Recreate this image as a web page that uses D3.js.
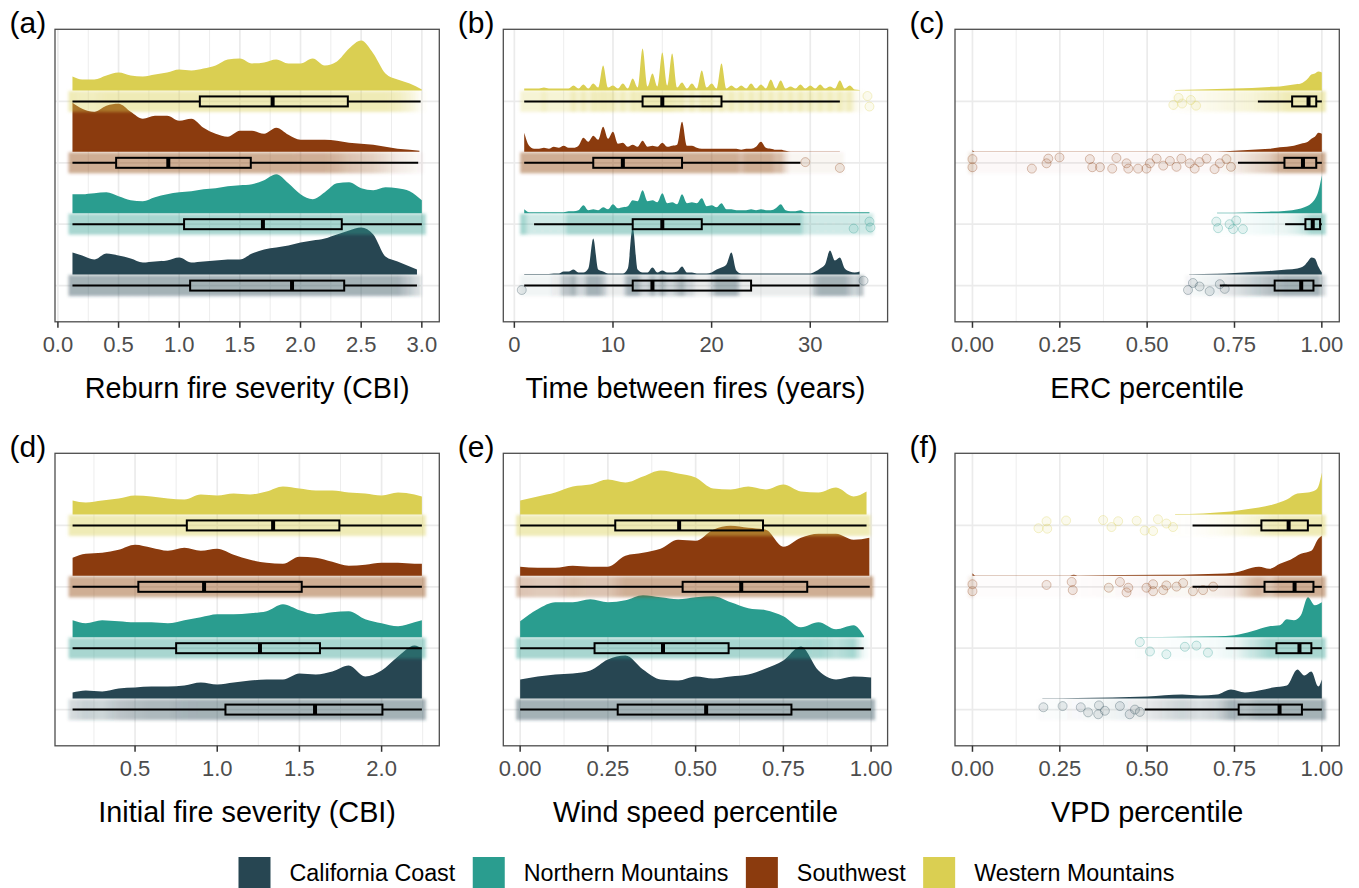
<!DOCTYPE html>
<html>
<head>
<meta charset="utf-8">
<title>reburn rainclouds</title>
<script src="https://cdn.jsdelivr.net/npm/d3@7/dist/d3.min.js"></script>
<style>
  body { margin: 0; background: #fff; }
  text { font-family: "Liberation Sans", Arial, Helvetica, sans-serif; }
</style>
</head>
<body>
<svg id="chart" width="1359" height="888"></svg>
<script>

// regions, bottom to top
var regions = ["California Coast", "Northern Mountains", "Southwest", "Western Mountains"];
var regionColors = ["#274652", "#2a9d8f", "#8b3b0e", "#dacf52"];

// (a) reburn severity: [CBI, density]
var reburnCC = [[0.12,22],[0.2,19],[0.3,15],[0.4,21],[0.5,19],[0.6,16],[0.7,12],[0.8,13],[0.9,14],[1.0,17],[1.1,12],[1.2,13],[1.3,14],[1.4,15],[1.5,15],[1.6,21],[1.7,25],[1.8,27],[1.9,29],[2.0,32],[2.1,34],[2.2,36],[2.3,40],[2.4,44],[2.5,47],[2.6,40],[2.7,18],[2.8,13],[2.9,8],[2.96,5]];
var reburnNM = [[0.12,19],[0.2,19],[0.3,20],[0.4,21],[0.5,17],[0.6,13],[0.7,12],[0.8,16],[0.9,19],[1.0,21],[1.1,22],[1.2,24],[1.3,25],[1.4,27],[1.5,28],[1.6,29],[1.7,33],[1.8,39],[1.9,30],[2.0,19],[2.1,14],[2.2,21],[2.3,30],[2.4,31],[2.5,25],[2.6,23],[2.7,26],[2.8,25],[2.9,22],[3.0,13]];
var reburnSW = [[0.12,49],[0.2,43],[0.3,40],[0.4,46],[0.5,48],[0.6,40],[0.7,33],[0.8,36],[0.9,36],[1.0,31],[1.1,33],[1.2,24],[1.3,18],[1.4,15],[1.5,21],[1.6,21],[1.7,18],[1.8,24],[1.9,17],[2.0,12],[2.1,12],[2.2,12],[2.3,11],[2.4,9],[2.5,8],[2.6,7],[2.7,5],[2.8,3],[2.9,2],[2.98,1]];
var reburnWM = [[0.12,14],[0.2,11],[0.3,11],[0.4,15],[0.5,18],[0.6,15],[0.7,14],[0.8,16],[0.9,18],[1.0,21],[1.1,20],[1.2,22],[1.3,25],[1.4,31],[1.5,32],[1.6,27],[1.7,28],[1.8,31],[1.9,27],[2.0,27],[2.1,32],[2.2,25],[2.3,29],[2.4,42],[2.5,50],[2.6,37],[2.7,17],[2.8,11],[2.9,7],[3.0,1]];
// [min, q1, median, q3, max]
var reburnBox = [[0.12,1.09,1.93,2.36,2.96],[0.12,1.04,1.69,2.34,3.0],[0.12,0.48,0.91,1.59,2.97],[0.12,1.17,1.77,2.39,2.99]];
var reburnTicks = [0, 0.5, 1, 1.5, 2, 2.5, 3];

// (b) years between fires, density every half year from 1
var timeStart = 1, timeStep = 0.5;
var timeCC = [0.5,0.5,0.5,0.5,0.5,0.5,1,1,3,3, 5,2,2,6,36,5,3,1,1,1, 1,6,47,5,2,2,7,2,4,2, 2,3,8,2,2,1,1,1,2,5, 7,10,22,4,1,1,1,1,1,1, 1,1,1,1,1,1,1,1,1,3, 6,10,24,14,17,6,3,2,3];
var timeNM = [4,1,1,1,1,1,1,1,1,2, 2,3,8,3,4,3,6,4,9,5, 6,7,13,12,23,12,13,11,20,10, 11,9,19,10,11,10,15,7,8,6, 10,4,4,3,3,3,4,3,4,3, 3,5,9,3,2,2,3,1,1,1, 1,1,1,1,1,1,1,1,1,1, 1];
var timeSW = [19,6,3,3,4,3,5,4,6,4, 4,6,14,10,16,12,25,13,20,8, 9,5,7,5,11,5,6,5,9,5, 6,7,30,6,6,4,3,3,3,3, 3,3,3,3,2,3,3,5,10,4, 3,2,2,1,0.3,0.3,0.3,0.3,0.3,0.3, 0.3,0.3,0.3,0.3,0.3];
var timeWM = [2,2,2,2,3,2,2,2,2,2, 5,2,6,2,7,3,25,3,5,2, 7,2,12,3,42,4,17,4,38,5, 37,3,8,2,7,2,20,3,7,2, 27,2,5,2,5,2,7,2,6,2, 11,2,10,2,4,2,6,2,5,2, 6,2,4,2,10,2,5,1,0.5];
var timeBox = [[1,12,14,24,35],[2,12,15,19,29],[1,8,11,17,29],[1,13,15,21,33]];
var timeTicks = [0, 10, 20, 30];
// scattered points: [region index, value, jitter -1..1]
var timeSparse = [[3,36,0.73],[3,35.8,-0.77],[2,33,0.73],[2,29.5,-0.1],[1,36,-0.37],[1,36.1,0.47],[1,34.4,0.63],[0,0.75,0.63],[0,35.4,-0.7]];

// (c) ERC percentile
var ercCC = [[0.62,0.3],[0.70,0.8],[0.75,1.5],[0.80,2.5],[0.85,3.5],[0.90,5],[0.93,6],[0.95,9],[0.96,13],[0.97,17],[0.98,16],[0.99,8],[1.0,2]];
var ercNM = [[0.70,0.3],[0.75,0.5],[0.80,1],[0.85,1.5],[0.90,2.5],[0.93,4],[0.95,6],[0.97,10],[0.98,14],[0.99,22],[1.0,38]];
var ercSW = [[0.0,1.5],[0.005,0.3],[0.7,0.3],[0.75,1],[0.80,2],[0.85,3],[0.88,4.5],[0.90,5],[0.92,6],[0.94,8],[0.96,10],[0.97,13],[0.98,15],[0.99,19],[1.0,18]];
var ercWM = [[0.58,0.3],[0.65,1],[0.70,1.5],[0.75,2],[0.80,2.5],[0.85,3.5],[0.88,4],[0.90,5],[0.92,6],[0.94,7],[0.95,9],[0.96,12],[0.97,16],[0.98,17],[0.99,19],[1.0,18]];
var ercBox = [[0.708,0.865,0.941,0.976,1.0],[0.895,0.953,0.974,0.995,1.0],[0.76,0.893,0.946,0.984,1.0],[0.817,0.915,0.962,0.984,1.0]];
var pctTicks = [0, 0.25, 0.5, 0.75, 1];
var ercSparse = [[3,0.575,0.5],[3,0.59,-0.5],[3,0.60,0.3],[3,0.625,-0.2],[3,0.64,0.6],
  [2,0,-0.53],[2,0,0.63],[2,0.17,0.83],[2,0.212,0.07],[2,0.217,-0.6],[2,0.249,-0.77],[2,0.336,-0.53],[2,0.343,0.63],[2,0.365,0.63],[2,0.40,0.83],[2,0.412,-0.7],[2,0.441,0.07],[2,0.446,0.83],[2,0.474,0.83],[2,0.498,0.83],[2,0.508,0.07],[2,0.527,-0.6],[2,0.546,0.4],[2,0.565,-0.27],[2,0.584,0.57],[2,0.598,-0.6],[2,0.622,0.07],[2,0.636,0.83],[2,0.65,-0.1],[2,0.67,-0.6],[2,0.693,0.9],[2,0.708,0.07],[2,0.727,-0.53],[2,0.74,0.57],
  [1,0.698,-0.37],[1,0.703,0.57],[1,0.736,0],[1,0.746,0.7],[1,0.774,0.7],[1,0.755,-0.53],
  [0,0.617,0.63],[0,0.631,-0.37],[0,0.65,0.13],[0,0.679,0.8],[0,0.708,-0.2],[0,0.722,0.47]];

// (d) initial severity
var initCC = [[0.12,6],[0.2,8],[0.3,7],[0.4,10],[0.5,11],[0.6,12],[0.7,12],[0.8,13],[0.9,16],[1.0,14],[1.1,16],[1.2,18],[1.3,19],[1.4,19],[1.5,25],[1.6,24],[1.7,27],[1.8,33],[1.9,22],[2.0,28],[2.1,42],[2.2,53],[2.245,50]];
var initNM = [[0.12,17],[0.2,14],[0.3,17],[0.4,16],[0.5,15],[0.6,15],[0.7,14],[0.8,17],[0.9,20],[1.0,23],[1.1,23],[1.2,24],[1.3,26],[1.4,33],[1.5,27],[1.6,23],[1.7,25],[1.8,26],[1.9,18],[2.0,14],[2.1,11],[2.2,15],[2.245,17]];
var initSW = [[0.12,18],[0.2,22],[0.3,23],[0.4,26],[0.5,31],[0.6,28],[0.7,25],[0.8,28],[0.9,25],[1.0,27],[1.1,21],[1.2,16],[1.3,13],[1.4,12],[1.5,19],[1.6,18],[1.7,14],[1.8,10],[1.9,11],[2.0,13],[2.1,13],[2.2,12],[2.245,12]];
var initWM = [[0.12,14],[0.2,12],[0.3,14],[0.4,16],[0.5,19],[0.6,18],[0.7,16],[0.8,15],[0.9,20],[1.0,19],[1.1,21],[1.2,20],[1.3,23],[1.4,28],[1.5,26],[1.6,24],[1.7,24],[1.8,22],[1.9,21],[2.0,19],[2.1,22],[2.2,20],[2.245,18]];
var initBox = [[0.12,1.05,1.595,2.005,2.245],[0.12,0.75,1.26,1.625,2.245],[0.12,0.52,0.92,1.514,2.245],[0.12,0.815,1.34,1.743,2.245]];
var initTicks = [0.5, 1, 1.5, 2];

// (e) wind speed percentile
var windCC = [[0,19],[0.05,22],[0.1,24],[0.15,25],[0.2,28],[0.25,39],[0.3,43],[0.35,29],[0.4,19],[0.45,18],[0.5,22],[0.55,20],[0.6,22],[0.65,24],[0.7,30],[0.75,38],[0.8,52],[0.85,28],[0.9,19],[0.95,22],[1.0,21]];
var windNM = [[0,16],[0.05,28],[0.1,35],[0.15,35],[0.2,38],[0.25,35],[0.3,37],[0.35,42],[0.4,40],[0.45,38],[0.5,40],[0.55,41],[0.6,35],[0.65,29],[0.7,27],[0.75,21],[0.8,10],[0.85,15],[0.9,8],[0.95,12],[0.98,1]];
var windSW = [[0,9],[0.05,8],[0.1,8],[0.15,10],[0.2,9],[0.25,9],[0.3,20],[0.35,23],[0.4,27],[0.45,36],[0.5,35],[0.55,46],[0.6,50],[0.65,48],[0.7,46],[0.75,29],[0.8,38],[0.85,42],[0.9,42],[0.95,36],[0.995,38]];
var windWM = [[0,14],[0.05,18],[0.1,22],[0.15,28],[0.2,30],[0.25,35],[0.3,32],[0.35,38],[0.4,44],[0.45,41],[0.5,37],[0.55,26],[0.6,25],[0.65,28],[0.7,25],[0.75,30],[0.8,23],[0.85,22],[0.9,27],[0.95,18],[0.987,23]];
var windBox = [[0,0.278,0.53,0.773,1.0],[0,0.212,0.407,0.594,0.979],[0,0.463,0.63,0.818,0.996],[0,0.271,0.453,0.692,0.987]];

// (f) VPD percentile
var vpdCC = [[0.2,0.3],[0.3,0.5],[0.4,1],[0.5,2],[0.6,4],[0.65,3],[0.7,4],[0.74,9],[0.78,6],[0.82,8],[0.86,11],[0.9,13],[0.93,29],[0.95,23],[0.97,27],[0.99,12],[1.0,19]];
var vpdNM = [[0.48,0.2],[0.6,0.5],[0.7,1],[0.75,2],[0.8,6],[0.85,11],[0.88,12],[0.9,18],[0.92,17],[0.94,22],[0.96,40],[0.98,32],[1.0,35]];
var vpdSW = [[0,2.5],[0.008,0.3],[0.28,0.3],[0.29,1],[0.3,0.3],[0.55,1],[0.6,1],[0.65,1.5],[0.7,2],[0.75,3],[0.8,8],[0.82,9],[0.85,7],[0.88,12],[0.91,16],[0.94,22],[0.97,25],[0.99,37],[1.0,40]];
var vpdWM = [[0.58,0.3],[0.62,0.5],[0.66,1],[0.7,2],[0.74,3],[0.78,5],[0.82,7],[0.86,10],[0.9,15],[0.93,21],[0.96,22],[0.98,24],[0.99,28],[1.0,42]];
var vpdBox = [[0.493,0.762,0.879,0.943,1.0],[0.725,0.87,0.936,0.97,1.0],[0.63,0.836,0.922,0.976,1.0],[0.63,0.827,0.905,0.96,1.0]];
var vpdSparse = [[3,0.189,0.4],[3,0.212,-0.6],[3,0.214,0.47],[3,0.268,-0.7],[3,0.374,-0.77],[3,0.398,0.23],[3,0.417,-0.6],[3,0.47,-0.67],[3,0.493,0.73],[3,0.517,0.8],[3,0.531,-0.87],[3,0.555,-0.27],[3,0.574,0.23],
  [2,0,-0.37],[2,0,0.63],[2,0.212,-0.27],[2,0.284,-0.7],[2,0.287,0.47],[2,0.39,0.13],[2,0.422,-0.7],[2,0.441,0.8],[2,0.446,0.13],[2,0.498,0.13],[2,0.517,-0.37],[2,0.517,0.63],[2,0.546,0.47],[2,0.555,-0.2],[2,0.584,-0.03],[2,0.603,-0.53],[2,0.631,0.63],[2,0.66,0.47],[2,0.689,-0.03],
  [1,0.479,-0.87],[1,0.508,0.47],[1,0.555,0.87],[1,0.608,-0.2],[1,0.641,-0.37],[1,0.674,0.63],
  [0,0.203,-0.33],[0,0.258,-0.5],[0,0.31,-0.33],[0,0.331,0.4],[0,0.362,-0.6],[0,0.36,0.67],[0,0.379,0.17],[0,0.422,-0.5],[0,0.465,0],[0,0.45,0.67],[0,0.479,0.33]];

function onGrid(vals, start, step) {
  return vals.map(function(v, i) { return [start + i * step, v]; });
}

var panels = [
  {tag: "(a)", title: "Reburn fire severity (CBI)", col: 0, row: 0, domain: [-0.024, 3.144], ticks: reburnTicks, fmt: d3.format(".1f"),
   dens: [reburnCC, reburnNM, reburnSW, reburnWM], box: reburnBox, sparse: [], gain: 4},
  {tag: "(b)", title: "Time between fires (years)", col: 1, row: 0, domain: [-1.12, 37.84], ticks: timeTicks, fmt: d3.format("d"),
   dens: [timeCC, timeNM, timeSW, timeWM].map(function(a) { return onGrid(a, timeStart, timeStep); }), box: timeBox, sparse: timeSparse, gain: 12},
  {tag: "(c)", title: "ERC percentile", col: 2, row: 0, domain: [-0.05, 1.05], ticks: pctTicks, fmt: d3.format(".2f"),
   dens: [ercCC, ercNM, ercSW, ercWM], box: ercBox, sparse: ercSparse, gain: 4},
  {tag: "(d)", title: "Initial fire severity (CBI)", col: 0, row: 1, domain: [0.013, 2.351], ticks: initTicks, fmt: d3.format(".1f"),
   dens: [initCC, initNM, initSW, initWM], box: initBox, sparse: [], gain: 4},
  {tag: "(e)", title: "Wind speed percentile", col: 1, row: 1, domain: [-0.048, 1.047], ticks: pctTicks, fmt: d3.format(".2f"),
   dens: [windCC, windNM, windSW, windWM], box: windBox, sparse: [], gain: 4},
  {tag: "(f)", title: "VPD percentile", col: 2, row: 1, domain: [-0.05, 1.05], ticks: pctTicks, fmt: d3.format(".2f"),
   dens: [vpdCC, vpdNM, vpdSW, vpdWM], box: vpdBox, sparse: vpdSparse, gain: 4}
];

var colX = [55, 503.3, 955], rowY = [29.3, 453.3];
var panelW = 384.3, panelH = 292.5;
var densBand = 61.4;   // density units in one category step
var densLift = 0.18;   // cloud sits a little above the rain

var svg = d3.select("#chart");
var defs = svg.append("defs");
defs.append("filter").attr("id", "soft")
    .attr("x", "-5%").attr("y", "-60%").attr("width", "110%").attr("height", "220%")
  .append("feGaussianBlur").attr("stdDeviation", 1.6);

var y = d3.scaleLinear().domain([0.41, 5.175]).range([panelH, 0]);

panels.forEach(function(p, pi) {
  var g = svg.append("g").attr("transform", "translate(" + colX[p.col] + "," + rowY[p.row] + ")");
  var x = d3.scaleLinear().domain(p.domain).range([0, panelW]);

  // grid
  var step = p.ticks[1] - p.ticks[0];
  var minor = d3.range(p.ticks.length + 1).map(function(k) { return p.ticks[0] - step / 2 + k * step; })
      .filter(function(v) { return v >= p.domain[0] && v <= p.domain[1]; });
  g.selectAll(".minor").data(minor).enter().append("line")
      .attr("x1", x).attr("x2", x).attr("y1", 0).attr("y2", panelH)
      .attr("stroke", "#ebebeb").attr("stroke-width", 0.9);
  g.selectAll(".major").data(p.ticks).enter().append("line")
      .attr("x1", x).attr("x2", x).attr("y1", 0).attr("y2", panelH)
      .attr("stroke", "#ebebeb").attr("stroke-width", 1.7);
  g.selectAll(".hgrid").data(regions).enter().append("line")
      .attr("x1", 0).attr("x2", panelW)
      .attr("y1", function(d, i) { return y(i + 1); }).attr("y2", function(d, i) { return y(i + 1); })
      .attr("stroke", "#ebebeb").attr("stroke-width", 1.7);

  // clouds
  p.dens.forEach(function(dens, i) {
    var pos = i + 1;
    var area = d3.area()
        .x(function(d) { return x(d[0]); })
        .y0(y(pos + densLift))
        .y1(function(d) { return y(pos + densLift + d[1] / densBand); })
        .curve(d3.curveMonotoneX);
    g.append("path").datum(dens).attr("d", area).attr("fill", regionColors[i]);
  });

  // rain: band whose opacity follows the density
  p.dens.forEach(function(dens, i) {
    var pos = i + 1;
    var lo = dens[0][0], hi = dens[dens.length - 1][0];
    var dmax = d3.max(dens, function(d) { return d[1]; });
    var gid = "rain" + pi + "_" + i;
    var grad = defs.append("linearGradient").attr("id", gid)
        .attr("gradientUnits", "userSpaceOnUse")
        .attr("x1", x(lo)).attr("x2", x(hi)).attr("y1", 0).attr("y2", 0);
    dens.forEach(function(d) {
      grad.append("stop")
          .attr("offset", (x(d[0]) - x(lo)) / (x(hi) - x(lo)))
          .attr("stop-color", regionColors[i])
          .attr("stop-opacity", 0.42 * Math.min(1, p.gain * d[1] / dmax));
    });
    g.append("rect")
        .attr("x", x(lo) - 4).attr("width", x(hi) - x(lo) + 8)
        .attr("y", y(pos) - 10.5).attr("height", 21)
        .attr("fill", "url(#" + gid + ")")
        .attr("filter", "url(#soft)");
  });

  g.selectAll(".pt").data(p.sparse).enter().append("circle")
      .attr("cx", function(d) { return x(d[1]); })
      .attr("cy", function(d) { return y(d[0] + 1) + d[2] * 7; })
      .attr("r", 4.5)
      .attr("fill", function(d) { return regionColors[d[0]]; }).attr("fill-opacity", 0.1)
      .attr("stroke", function(d) { return regionColors[d[0]]; }).attr("stroke-opacity", 0.3);

  // boxes
  p.box.forEach(function(b, i) {
    var cy = y(i + 1);
    g.append("line").attr("x1", x(b[0])).attr("x2", x(b[1])).attr("y1", cy).attr("y2", cy)
        .attr("stroke", "#000").attr("stroke-width", 2);
    g.append("line").attr("x1", x(b[3])).attr("x2", x(b[4])).attr("y1", cy).attr("y2", cy)
        .attr("stroke", "#000").attr("stroke-width", 2);
    g.append("rect").attr("x", x(b[1])).attr("width", x(b[3]) - x(b[1]))
        .attr("y", cy - 5).attr("height", 10)
        .attr("fill", "none").attr("stroke", "#000").attr("stroke-width", 2);
    g.append("line").attr("x1", x(b[2])).attr("x2", x(b[2])).attr("y1", cy - 5).attr("y2", cy + 5)
        .attr("stroke", "#000").attr("stroke-width", 4);
  });

  // frame and axis
  g.append("rect").attr("width", panelW).attr("height", panelH)
      .attr("fill", "none").attr("stroke", "#4d4d4d").attr("stroke-width", 1.3);
  g.selectAll(".tick").data(p.ticks).enter().append("line")
      .attr("x1", x).attr("x2", x).attr("y1", panelH).attr("y2", panelH + 6)
      .attr("stroke", "#333").attr("stroke-width", 1.5);
  g.selectAll(".ticklab").data(p.ticks).enter().append("text")
      .attr("x", x).attr("y", panelH + 30.5)
      .attr("text-anchor", "middle").attr("font-size", 22).attr("fill", "#4d4d4d")
      .text(p.fmt);
  g.append("text").attr("x", panelW / 2).attr("y", panelH + 76)
      .attr("text-anchor", "middle").attr("font-size", 28.8).attr("fill", "#000")
      .text(p.title);
  g.append("text").attr("x", -45.5).attr("y", 4)
      .attr("font-size", 30).attr("fill", "#000")
      .text(p.tag);
});

// legend
var lx = 238.5;
regions.forEach(function(r, i) {
  svg.append("rect").attr("x", lx).attr("y", 857).attr("width", 32).attr("height", 31)
      .attr("fill", regionColors[i]);
  var t = svg.append("text").attr("x", lx + 51).attr("y", 881)
      .attr("font-size", 23.3).attr("fill", "#000").text(r);
  lx += 51 + t.node().getComputedTextLength() + 17.5;
});

</script>
</body>
</html>
